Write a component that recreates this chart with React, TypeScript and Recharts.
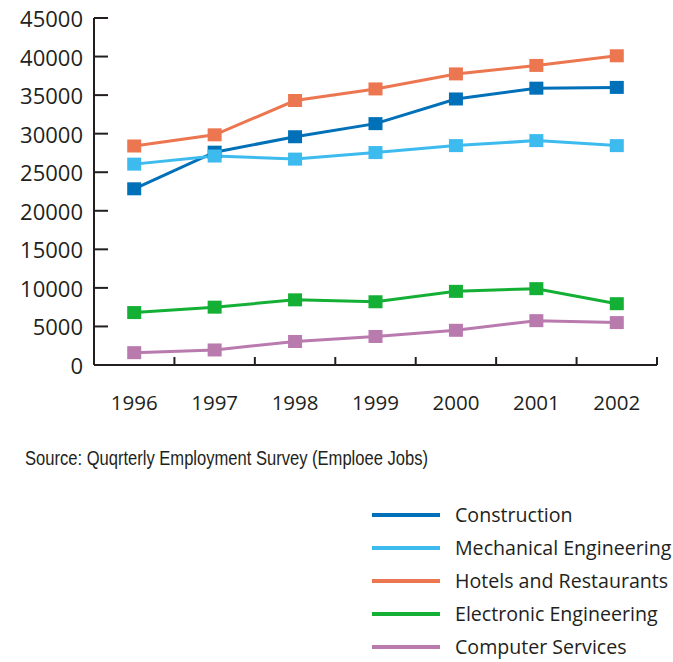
import React from 'react';
import { LineChart, Line, XAxis, YAxis, Legend } from 'recharts';

const years = [1996, 1997, 1998, 1999, 2000, 2001, 2002];
const construction = [22850, 27600, 29600, 31300, 34500, 35900, 36000];
const mechanical = [26050, 27100, 26700, 27550, 28450, 29100, 28450];
const hotels = [28400, 29850, 34300, 35800, 37750, 38850, 40100];
const electronic = [6800, 7500, 8450, 8200, 9550, 9900, 7950];
const computer = [1600, 1950, 3050, 3700, 4500, 5750, 5500];

const yTicks = [0, 5000, 10000, 15000, 20000, 25000, 30000, 35000, 40000, 45000];
const xTicks = [1995.5, 1996, 1996.5, 1997, 1997.5, 1998, 1998.5, 1999, 1999.5, 2000, 2000.5, 2001, 2001.5, 2002, 2002.5];

const sourceText = 'Source: Quqrterly Employment Survey (Emploee Jobs)';

const seriesList = [
  { key: 'construction', name: 'Construction', color: '#0070b8', values: construction },
  { key: 'mechanical', name: 'Mechanical Engineering', color: '#3dbbee', values: mechanical },
  { key: 'hotels', name: 'Hotels and Restaurants', color: '#ec7650', values: hotels },
  { key: 'electronic', name: 'Electronic Engineering', color: '#13b035', values: electronic },
  { key: 'computer', name: 'Computer Services', color: '#b97aae', values: computer },
];

const data = years.map((y, i) => {
  const row: any = { year: y };
  seriesList.forEach((s) => {
    row[s.key] = s.values[i];
  });
  return row;
});

const INK = '#231f20';
const AXIS_FONT = '"Open Sans", sans-serif';

const YTick = (props: any) => {
  const { x, y, payload } = props;
  const axisX = x + 11;
  return (
    <g>
      <line x1={axisX} x2={axisX + 14} y1={y} y2={y} stroke={INK} strokeWidth={2} />
      <text x={x} y={y} textAnchor="end" dominantBaseline="central" fontFamily={AXIS_FONT} fontSize={22} fill={INK}>
        {payload.value}
      </text>
    </g>
  );
};

const XTick = (props: any) => {
  const { x, y, payload } = props;
  const v = payload.value;
  if (Number.isInteger(v)) {
    return (
      <text x={x} y={y + 37} textAnchor="middle" dominantBaseline="central" fontFamily={AXIS_FONT} fontSize={20.5} fill={INK}>
        {v}
      </text>
    );
  }
  return <line x1={x} x2={x} y1={y} y2={y - 8} stroke={INK} strokeWidth={2} />;
};

const makeDot = (color: string) => (props: any) => {
  const { cx, cy, index } = props;
  return <rect key={`d-${index}`} x={cx - 7} y={cy - 6.5} width={14} height={13} fill={color} />;
};

const LegendContent = () => {
  return (
    <div>
      {seriesList.map((s) => (
        <div key={s.key} style={{ height: 33, display: 'flex', alignItems: 'center' }}>
          <svg width={68} height={6} style={{ display: 'block' }}>
            <line x1={0} x2={68} y1={3} y2={3} stroke={s.color} strokeWidth={4} />
          </svg>
          <span style={{ marginLeft: 15, fontFamily: AXIS_FONT, fontSize: 19.6, color: INK, whiteSpace: 'nowrap' }}>
            {s.name}
          </span>
        </div>
      ))}
    </div>
  );
};

export default function App() {
  return (
    <div style={{ position: 'absolute', left: 0, top: 0, width: 673, height: 662, background: '#fff' }}>
      <LineChart width={673} height={662} data={data} margin={{ top: 18, right: 16, left: 0, bottom: 237 }}>
        <XAxis
          dataKey="year"
          type="number"
          domain={[1995.5, 2002.5]}
          ticks={xTicks}
          interval={0}
          height={60}
          tickSize={0}
          tickMargin={0}
          tickLine={false}
          axisLine={{ stroke: INK, strokeWidth: 2 }}
          tick={<XTick />}
        />
        <YAxis
          type="number"
          domain={[0, 45000]}
          ticks={yTicks}
          interval={0}
          width={94}
          tickSize={0}
          tickMargin={11}
          tickLine={false}
          axisLine={{ stroke: INK, strokeWidth: 2 }}
          tick={<YTick />}
        />
        {seriesList.map((s) => (
          <Line
            key={s.key}
            dataKey={s.key}
            name={s.name}
            stroke={s.color}
            strokeWidth={3}
            dot={makeDot(s.color)}
            activeDot={false}
            isAnimationActive={false}
          />
        ))}
        <Legend
          layout="vertical"
          align="center"
          verticalAlign="middle"
          content={<LegendContent />}
          wrapperStyle={{ position: 'absolute', left: 372, top: 498, width: 301, height: 165 }}
        />
      </LineChart>
      <svg width={673} height={30} style={{ position: 'absolute', left: 0, top: 443 }}>
        <text
          x={25}
          y={15}
          dominantBaseline="central"
          textLength={403}
          lengthAdjust="spacingAndGlyphs"
          fontFamily='"Liberation Sans", Arial, sans-serif'
          fontSize={20}
          fill={INK}
        >
          {sourceText}
        </text>
      </svg>
    </div>
  );
}
